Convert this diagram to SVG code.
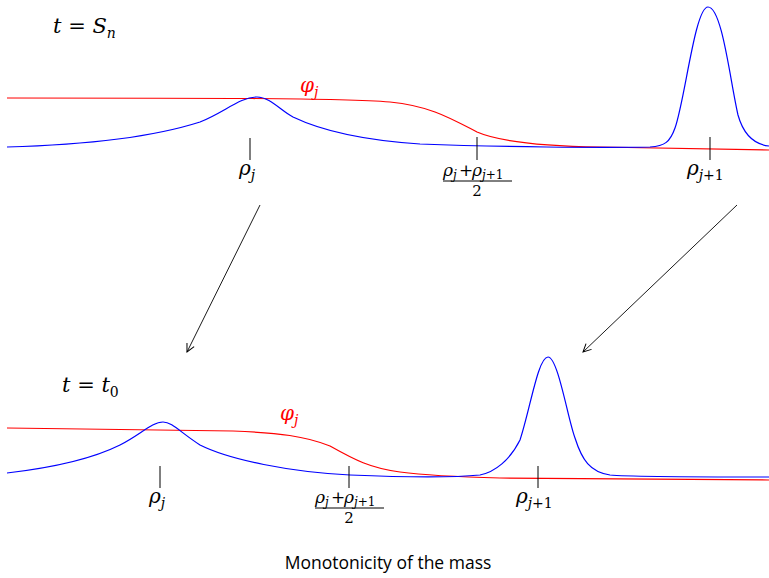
<svg xmlns="http://www.w3.org/2000/svg" width="769" height="578" viewBox="0 0 769 578">
<style>
.red{stroke:#ff0000;fill:none;stroke-width:1.2}
.blue{stroke:#0000ff;fill:none;stroke-width:1.2}
.tick{stroke:#000;stroke-width:1}
.arr{stroke:#000;stroke-width:0.9;fill:none}
</style>
<defs>
<marker id="ah" markerWidth="10" markerHeight="10" refX="9" refY="5" orient="auto" markerUnits="userSpaceOnUse">
<path d="M1,1 L9,5 L1,9" fill="none" stroke="#000" stroke-width="1"/>
</marker>
</defs>
<rect width="769" height="578" fill="#fff"/>
<g id="top" font-family="'DejaVu Serif', serif">
<text x="53" y="33" font-size="21" font-style="italic">t <tspan font-style="normal">=</tspan> S<tspan font-size="14" dy="5">n</tspan></text>
<path class="red" d="M7,98 C200,98 340,98 390,102 C430,106 450,118 477,132 C500,142 540,146 600,147 L769,150"/>
<path class="blue" d="M7,147 C80,145 150,138 200,122 C225,112 240,97 257,97 C270,97 280,110 293,117 C320,130 360,140 420,144 C500,147 600,148 650,147 C665,146 670,142 675,128 C685,100 695,7 708,7 C722,7 730,80 738,115 C745,140 760,145 769,146"/>
<text x="300" y="92" font-size="20" font-style="italic" fill="#ff0000">φ<tspan font-size="14" dy="5">j</tspan></text>
<line class="tick" x1="250" y1="138" x2="250" y2="160"/>
<text x="239" y="175" font-size="20" font-style="italic">ρ<tspan font-size="14" dy="5">j</tspan></text>
<line class="tick" x1="477" y1="137" x2="477" y2="160"/>
<text font-size="17" font-style="italic" y="176"><tspan x="443">ρ</tspan><tspan x="453" font-size="12" dy="3">j</tspan><tspan x="459" font-style="normal" dy="-3">+</tspan><tspan x="472">ρ</tspan><tspan x="482" font-size="12" dy="3">j<tspan font-style="normal">+1</tspan></tspan></text>
<line class="tick" x1="443" y1="181" x2="512" y2="181"/>
<text x="477" y="196" font-size="15" text-anchor="middle">2</text>
<line class="tick" x1="710" y1="137" x2="710" y2="160"/>
<text x="687" y="175" font-size="20" font-style="italic">ρ<tspan font-size="14" dy="5">j<tspan font-style="normal">+1</tspan></tspan></text>
</g>
<g id="bottom" font-family="'DejaVu Serif', serif">
<text x="62" y="392" font-size="21" font-style="italic">t <tspan font-style="normal">=</tspan> t<tspan font-style="normal" font-size="14" dy="5">0</tspan></text>
<path class="red" d="M7,428 L233,431 C280,433 305,436 330,446 C355,460 370,468 400,472 C430,476 460,477 500,478 L769,480"/>
<path class="blue" d="M7,473 C50,468 90,460 120,445 C140,435 152,422 163,422 C172,422 180,432 200,445 C230,460 290,472 350,475 C420,478 460,477 480,475 C495,472 510,460 520,440 C530,410 538,357 548,357 C558,357 568,420 575,438 C582,460 590,472 610,475 C630,477 680,477 769,477"/>
<text x="280" y="420" font-size="20" font-style="italic" fill="#ff0000">φ<tspan font-size="14" dy="5">j</tspan></text>
<line class="tick" x1="160" y1="466" x2="160" y2="488"/>
<text x="149" y="503" font-size="20" font-style="italic">ρ<tspan font-size="14" dy="5">j</tspan></text>
<line class="tick" x1="349" y1="466" x2="349" y2="488"/>
<text font-size="17" font-style="italic" y="503"><tspan x="315">ρ</tspan><tspan x="325" font-size="12" dy="3">j</tspan><tspan x="331" font-style="normal" dy="-3">+</tspan><tspan x="344">ρ</tspan><tspan x="354" font-size="12" dy="3">j<tspan font-style="normal">+1</tspan></tspan></text>
<line class="tick" x1="315" y1="508" x2="384" y2="508"/>
<text x="349" y="523" font-size="15" text-anchor="middle">2</text>
<line class="tick" x1="538" y1="466" x2="538" y2="488"/>
<text x="516" y="503" font-size="20" font-style="italic">ρ<tspan font-size="14" dy="5">j<tspan font-style="normal">+1</tspan></tspan></text>
</g>
<g id="connectors">
<line class="arr" x1="260" y1="205" x2="187" y2="352" marker-end="url(#ah)"/>
<line class="arr" x1="737" y1="205" x2="583" y2="352" marker-end="url(#ah)"/>
</g>
<text x="388" y="569" font-family="'Open Sans', sans-serif" font-size="17.5" text-anchor="middle" fill="#000">Monotonicity of the mass</text>
</svg>
